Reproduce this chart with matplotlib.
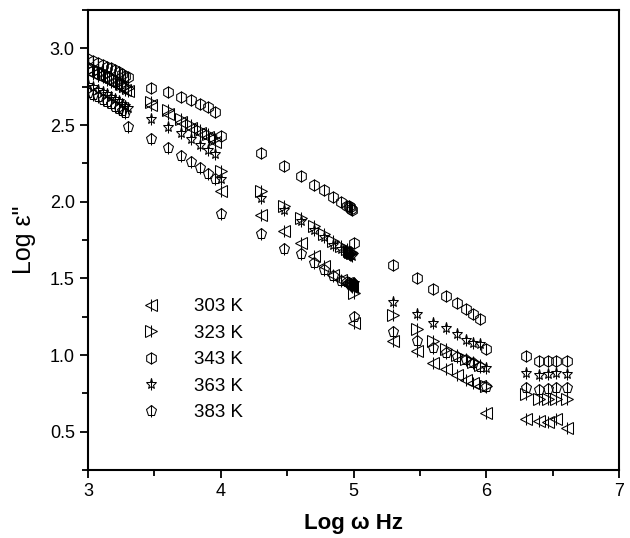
import matplotlib
matplotlib.use("Agg")
import matplotlib.pyplot as plt
from matplotlib.lines import Line2D
from matplotlib.ticker import MultipleLocator, FormatStrFormatter

plt.rcParams["font.family"] = ["Liberation Sans", "DejaVu Sans"]

# log of angular frequency (shared by all temperatures)
log_w = [3.000, 3.041, 3.079, 3.114, 3.146, 3.176, 3.204, 3.230, 3.255, 3.279, 3.301,
         3.477, 3.602, 3.699, 3.778, 3.845, 3.903, 3.954, 4.000,
         4.301, 4.477, 4.602, 4.699, 4.778, 4.845, 4.903, 4.954, 4.964, 4.973, 4.982, 4.991, 5.000,
         5.301, 5.477, 5.602, 5.699, 5.778, 5.845, 5.903, 5.954, 6.000,
         6.301, 6.398, 6.462, 6.525, 6.610]

eps_303 = [2.85, 2.835, 2.82, 2.81, 2.795, 2.78, 2.77, 2.755, 2.745, 2.73, 2.72,
           2.63, 2.57, 2.52, 2.48, 2.45, 2.42, 2.39, 2.07,
           1.915, 1.807, 1.731, 1.644, 1.579, 1.525, 1.49, 1.47, 1.46, 1.455, 1.45, 1.445, 1.21,
           1.09, 1.025, 0.95, 0.906, 0.87, 0.84, 0.82, 0.80, 0.62,
           0.585, 0.57, 0.56, 0.58, 0.526]
eps_323 = [2.89, 2.875, 2.86, 2.845, 2.83, 2.815, 2.80, 2.785, 2.77, 2.755, 2.74,
           2.65, 2.60, 2.54, 2.50, 2.47, 2.44, 2.41, 2.20,
           2.067, 1.974, 1.894, 1.84, 1.79, 1.745, 1.71, 1.69, 1.68, 1.675, 1.67, 1.665, 1.405,
           1.264, 1.171, 1.09, 1.036, 1.0, 0.975, 0.955, 0.935, 0.80,
           0.744, 0.716, 0.711, 0.716, 0.711]
eps_343 = [2.93, 2.92, 2.905, 2.89, 2.88, 2.87, 2.86, 2.845, 2.835, 2.82, 2.81,
           2.744, 2.714, 2.682, 2.66, 2.638, 2.617, 2.588, 2.43,
           2.317, 2.234, 2.169, 2.11, 2.074, 2.03, 1.995, 1.975, 1.97, 1.965, 1.955, 1.945, 1.73,
           1.59, 1.503, 1.432, 1.383, 1.336, 1.297, 1.27, 1.236, 1.036,
           0.993, 0.96, 0.96, 0.96, 0.96]
eps_363 = [2.76, 2.745, 2.73, 2.715, 2.70, 2.685, 2.67, 2.655, 2.64, 2.625, 2.61,
           2.538, 2.486, 2.447, 2.408, 2.37, 2.34, 2.31, 2.15,
           2.024, 1.943, 1.872, 1.818, 1.77, 1.72, 1.69, 1.67, 1.66, 1.655, 1.65, 1.645, 1.47,
           1.345, 1.27, 1.21, 1.177, 1.14, 1.10, 1.08, 1.069, 0.917,
           0.885, 0.867, 0.874, 0.885, 0.874]
eps_383 = [2.71, 2.695, 2.68, 2.665, 2.65, 2.635, 2.62, 2.605, 2.59, 2.58, 2.49,
           2.41, 2.35, 2.30, 2.256, 2.22, 2.18, 2.15, 1.92,
           1.79, 1.692, 1.66, 1.60, 1.557, 1.514, 1.48, 1.475, 1.47, 1.465, 1.46, 1.455, 1.25,
           1.15, 1.09, 1.047, 1.015, 0.99, 0.965, 0.945, 0.925, 0.79,
           0.787, 0.772, 0.78, 0.787, 0.787]

labels = ["303 K", "323 K", "343 K", "363 K", "383 K"]
markers = ["<", ">", "h", "*", "p"]
series = [eps_303, eps_323, eps_343, eps_363, eps_383]

fig = plt.figure(figsize=(6.3, 5.38), dpi=100)
ax = fig.add_axes([88 / 630, 1 - 470 / 538, 531 / 630, 460 / 538])

ms = 8
handles = []
for eps, mk in zip(series, markers):
    # open marker with the vertical bar drawn through it
    ax.plot(log_w, eps, linestyle="none", marker=mk, ms=ms, mfc="none",
            mec="black", mew=0.75)
    ax.plot(log_w, eps, linestyle="none", marker="|", ms=ms, mec="black", mew=0.75)
    h1 = Line2D([], [], linestyle="none", marker=mk, ms=ms, mfc="none", mec="black", mew=0.75)
    h2 = Line2D([], [], linestyle="none", marker="|", ms=ms, mec="black", mew=0.75)
    handles.append((h1, h2))

ax.legend(handles, labels, frameon=False, loc="upper left",
          bbox_to_anchor=(0.065, 0.41), fontsize=13.5, handlelength=1.2,
          handletextpad=1.7, labelspacing=0.5)

ax.set_xlim(3, 7)
ax.set_ylim(0.25, 3.25)
ax.xaxis.set_major_locator(MultipleLocator(1))
ax.xaxis.set_minor_locator(MultipleLocator(0.5))
ax.yaxis.set_major_locator(MultipleLocator(0.5))
ax.yaxis.set_minor_locator(MultipleLocator(0.25))
ax.yaxis.set_major_formatter(FormatStrFormatter("%.1f"))
ax.tick_params(which="both", direction="out", top=False, right=False,
               width=1.3, labelsize=13)
ax.tick_params(which="major", length=6)
ax.tick_params(which="minor", length=4)
for side in ax.spines.values():
    side.set_linewidth(1.5)

ax.set_xlabel("Log ω Hz", fontsize=16, fontweight="bold", labelpad=9)
ax.set_ylabel('Log ε"', fontsize=18, labelpad=10)

fig.savefig("out.png", dpi=100)
